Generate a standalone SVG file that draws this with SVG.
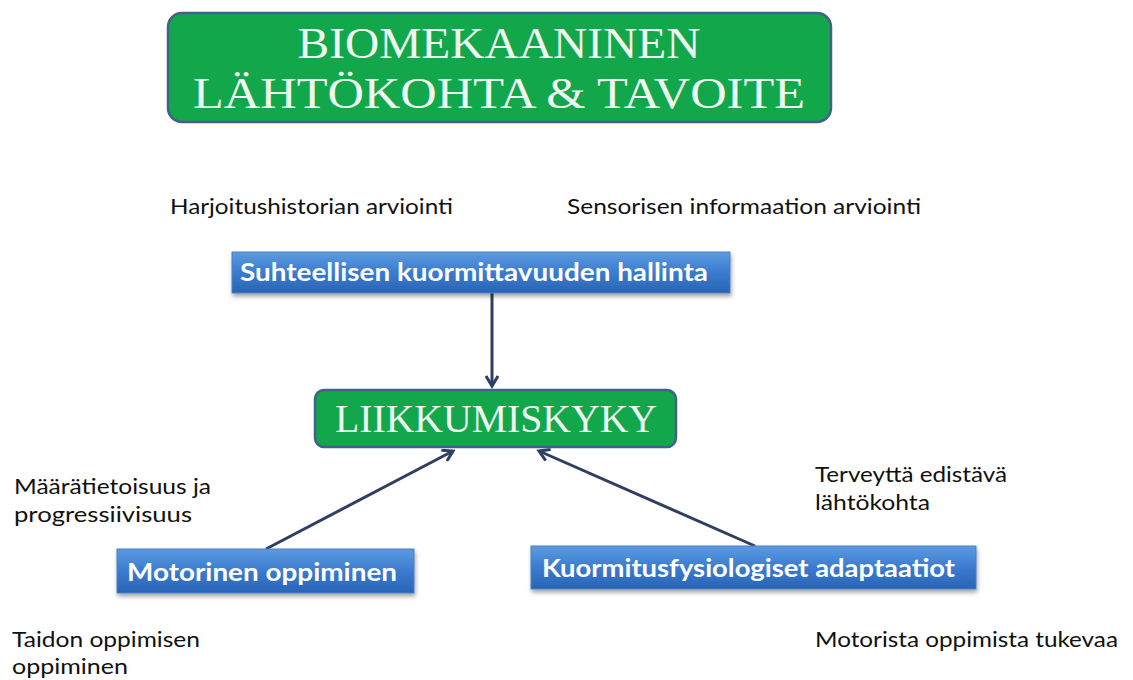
<svg xmlns="http://www.w3.org/2000/svg" width="1133" height="680" viewBox="0 0 1133 680">
<defs>
<linearGradient id="blue" x1="0" y1="0" x2="0" y2="1">
<stop offset="0" stop-color="#5c9be0"/>
<stop offset="0.5" stop-color="#3b7bcf"/>
<stop offset="1" stop-color="#2a64b4"/>
</linearGradient>
<filter id="sh" x="-5%" y="-20%" width="110%" height="150%">
<feDropShadow dx="1" dy="3" stdDeviation="2" flood-color="#000" flood-opacity="0.35"/>
</filter>
<marker id="ah" markerWidth="14" markerHeight="14" refX="11" refY="7" orient="auto" markerUnits="userSpaceOnUse">
<path d="M1,1 L11,7 L1,13" fill="none" stroke="#2f3f63" stroke-width="3" stroke-linejoin="miter"/>
</marker>
<style>
.green{fill:#13a74b;stroke:#41608a;stroke-width:2.5}
.blue{fill:url(#blue);stroke:#4a7fc4;stroke-width:1;filter:url(#sh)}
.serif{font-family:"Liberation Serif","Times New Roman",serif;fill:#eef8f0}
.btxt{font-family:Lato,"Open Sans",sans-serif;font-weight:bold;fill:#ffffff;font-size:24px}
.plain{font-family:Lato,"Open Sans",sans-serif;fill:#111111;font-size:21px}
.conn{stroke:#2f3f63;stroke-width:3;fill:none}
</style>
</defs>
<g id="title">
<rect class="green" x="168" y="13" width="663" height="109" rx="14"/>
<text class="serif" x="499" y="58" font-size="45" text-anchor="middle" textLength="403" lengthAdjust="spacingAndGlyphs">BIOMEKAANINEN</text>
<text class="serif" x="499" y="108" font-size="45" text-anchor="middle" textLength="612" lengthAdjust="spacingAndGlyphs">LÄHTÖKOHTA &amp; TAVOITE</text>
</g>
<g id="connectors">
<line class="conn" x1="492" y1="293" x2="492" y2="386" marker-end="url(#ah)"/>
<line class="conn" x1="266" y1="549" x2="453" y2="451" marker-end="url(#ah)"/>
<line class="conn" x1="755" y1="546" x2="539" y2="451" marker-end="url(#ah)"/>
</g>
<g id="suhteellisen">
<rect class="blue" x="232" y="252" width="498" height="41"/>
<text class="btxt" x="240" y="281" textLength="468" lengthAdjust="spacingAndGlyphs">Suhteellisen kuormittavuuden hallinta</text>
</g>
<g id="liikkumiskyky">
<rect class="green" x="315" y="390" width="361" height="57" rx="9"/>
<text class="serif" x="496" y="432" font-size="41" text-anchor="middle" textLength="322" lengthAdjust="spacingAndGlyphs">LIIKKUMISKYKY</text>
</g>
<g id="motorinen">
<rect class="blue" x="117" y="549" width="297" height="44"/>
<text class="btxt" x="127" y="581" textLength="270" lengthAdjust="spacingAndGlyphs">Motorinen oppiminen</text>
</g>
<g id="kuormitus">
<rect class="blue" x="531" y="546" width="445" height="43"/>
<text class="btxt" x="542" y="577" textLength="413" lengthAdjust="spacingAndGlyphs">Kuormitusfysiologiset adaptaatiot</text>
</g>
<g id="labels">
<text class="plain" x="170" y="214" textLength="283" lengthAdjust="spacingAndGlyphs">Harjoitushistorian arviointi</text>
<text class="plain" x="567" y="214" textLength="354" lengthAdjust="spacingAndGlyphs">Sensorisen informaation arviointi</text>
<text class="plain" x="14" y="494" textLength="197" lengthAdjust="spacingAndGlyphs">Määrätietoisuus ja</text>
<text class="plain" x="14" y="522" textLength="178" lengthAdjust="spacingAndGlyphs">progressiivisuus</text>
<text class="plain" x="815" y="482" textLength="192" lengthAdjust="spacingAndGlyphs">Terveyttä edistävä</text>
<text class="plain" x="815" y="510" textLength="115" lengthAdjust="spacingAndGlyphs">lähtökohta</text>
<text class="plain" x="12" y="647" textLength="188" lengthAdjust="spacingAndGlyphs">Taidon oppimisen</text>
<text class="plain" x="12" y="674" textLength="116" lengthAdjust="spacingAndGlyphs">oppiminen</text>
<text class="plain" x="815" y="647" textLength="303" lengthAdjust="spacingAndGlyphs">Motorista oppimista tukevaa</text>
</g>
</svg>
